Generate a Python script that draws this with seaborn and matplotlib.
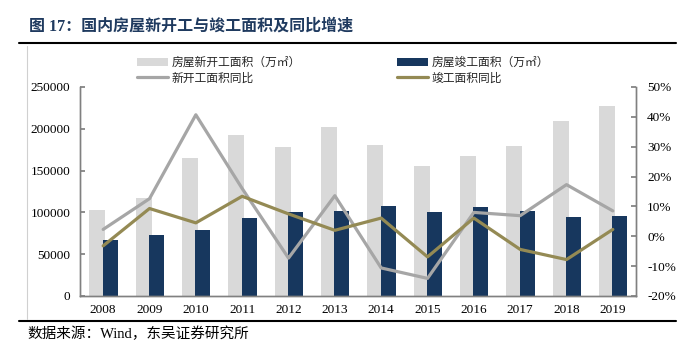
import numpy as np
import pandas as pd
import matplotlib
matplotlib.use("Agg")
import matplotlib.pyplot as plt
import seaborn as sns
from matplotlib.patches import Patch
from matplotlib.lines import Line2D
from matplotlib.ticker import FuncFormatter

years = ["2008", "2009", "2010", "2011", "2012", "2013", "2014", "2015", "2016", "2017", "2018", "2019"]
new_start_area = [103000, 117500, 164500, 192500, 178500, 202500, 180500, 155200, 168000, 179200, 209800, 227500]
completed_area = [67200, 73000, 79300, 93500, 100000, 101800, 107900, 100700, 106500, 101800, 94300, 96200]
new_start_yoy = [2.3, 12.6, 40.7, 16.0, -7.3, 13.6, -10.6, -14.1, 8.0, 6.9, 17.3, 8.5]
completed_yoy = [-3.2, 9.3, 4.5, 13.4, 7.5, 2.0, 6.1, -6.9, 6.1, -4.4, -7.8, 2.3]

title = "图 17：国内房屋新开工与竣工面积及同比增速"
source = "数据来源：Wind，东吴证券研究所"
labels = ["房屋新开工面积（万㎡）", "新开工面积同比", "房屋竣工面积（万㎡）", "竣工面积同比"]

df = pd.DataFrame({
    "year": years,
    "idx": np.arange(len(years)),
    "new": new_start_area,
    "done": completed_area,
    "new_yoy": np.array(new_start_yoy) / 100,
    "done_yoy": np.array(completed_yoy) / 100,
})

sns.set_theme(style="white")
cjk = ["Noto Sans CJK SC", "DejaVu Sans"]
serif = ["Liberation Serif", "Noto Sans CJK SC"]
plt.rcParams["font.family"] = cjk

c_light = "#D9D9D9"
c_navy = "#17375E"
c_grey = "#A6A6A6"
c_olive = "#948A54"
c_spine = "#808080"

W, H = 690, 354
fig = plt.figure(figsize=(W / 100, H / 100), dpi=100)
ax = fig.add_axes([80 / W, 1 - 296 / H, (636 - 80) / W, (296 - 87) / H])

sns.barplot(data=df, x="year", y="new", color=c_light, width=0.345, saturation=1, ax=ax)
n1 = len(ax.patches)
for p in ax.patches:
    p.set_x(p.get_x() - 0.127)
    p.set_edgecolor("none")
sns.barplot(data=df, x="year", y="done", color=c_navy, width=0.325, saturation=1, ax=ax)
for p in ax.patches[n1:]:
    p.set_x(p.get_x() + 0.15)
    p.set_edgecolor("none")

ax.set_xlim(-0.5, len(years) - 0.5)
ax.set_ylim(0, 250000)
ax.set_yticks(np.arange(0, 250001, 50000))
ax.set_xlabel("")
ax.set_ylabel("")

ax2 = ax.twinx()
sns.lineplot(data=df, x="idx", y="new_yoy", color=c_grey, lw=2.3, sort=False, ax=ax2)
sns.lineplot(data=df, x="idx", y="done_yoy", color=c_olive, lw=2.3, sort=False, ax=ax2)
ax2.set_xlim(-0.5, len(years) - 0.5)
ax2.set_ylim(-0.2, 0.5)
ax2.set_yticks(np.arange(-0.2, 0.51, 0.1))
ax2.yaxis.set_major_formatter(FuncFormatter(lambda v, p: f"{v*100:.0f}%"))
ax2.set_ylabel("")
ax2.set_xlabel("")

for a in (ax, ax2):
    for s in a.spines.values():
        s.set_color(c_spine)
        s.set_linewidth(1)
    a.spines["top"].set_visible(False)
    a.grid(False)

ax.set_xticks(np.arange(len(years)))
ax.set_xticklabels(years)
ax.set_xticks(np.arange(0.5, len(years) - 0.5, 1), minor=True)
ax.tick_params(axis="x", which="major", length=0, pad=6, labelsize=9.5, colors="black")
ax.tick_params(axis="x", which="minor", direction="in", length=3.5, color=c_spine, width=1)
ax.tick_params(axis="y", direction="in", length=3.5, color=c_spine, pad=7, labelsize=9.5, labelcolor="black", left=True)
ax2.tick_params(axis="y", direction="in", length=3.5, color=c_spine, pad=8, labelsize=9.5, labelcolor="black", right=True)
for t in ax.get_xticklabels() + ax.get_yticklabels() + ax2.get_yticklabels():
    t.set_family(serif)

handles = [
    Patch(facecolor=c_light, edgecolor="none"),
    Line2D([], [], color=c_grey, lw=2.3),
    Patch(facecolor=c_navy, edgecolor="none"),
    Line2D([], [], color=c_olive, lw=2.3),
]
fig.legend(handles, labels, ncol=2, loc="upper left",
           bbox_to_anchor=(137 / W, 1 - 56 / H), frameon=False,
           prop={"family": cjk, "size": 8.5}, handlelength=2.6, handleheight=0.6,
           handletextpad=0.3, columnspacing=8.2, labelspacing=0.2,
           borderaxespad=0, borderpad=0)

fig.text(29 / W, 1 - 27 / H, title, ha="left", va="center", fontsize=11.5,
         fontweight="bold", color="#1F3A5F", family=serif)
fig.text(27 / W, 1 - 334 / H, source, ha="left", va="center", fontsize=10.5,
         color="black", family=serif)

fig.add_artist(Line2D([19 / W, 676 / W], [1 - 43 / H, 1 - 43 / H], color="black", lw=1.5, transform=fig.transFigure))
fig.add_artist(Line2D([19 / W, 676 / W], [1 - 321 / H, 1 - 321 / H], color="black", lw=1.5, transform=fig.transFigure))
fig.add_artist(Line2D([27 / W, 27 / W], [1 - 46 / H, 1 - 319 / H], color="#D0D0D0", lw=0.8, transform=fig.transFigure))

fig.savefig("out.png", dpi=100)
